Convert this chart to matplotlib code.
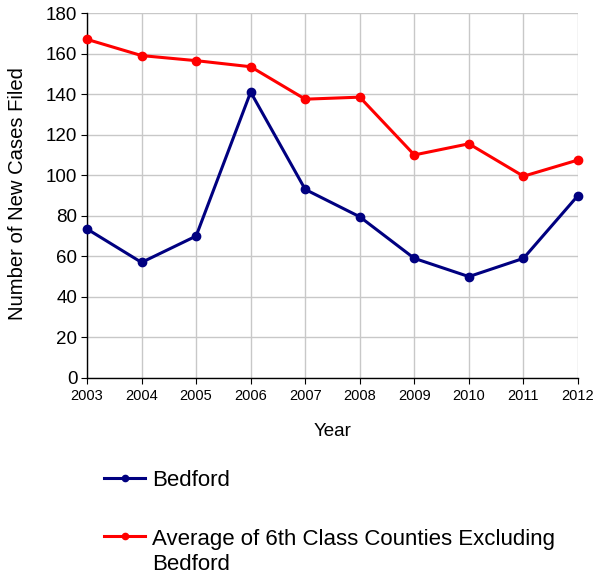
import matplotlib
matplotlib.use("Agg")
import matplotlib.pyplot as plt
from matplotlib.lines import Line2D
from matplotlib.transforms import Bbox

plt.rcParams['font.family'] = ['Liberation Sans', 'DejaVu Sans']

years = [2003, 2004, 2005, 2006, 2007, 2008, 2009, 2010, 2011, 2012]
bedford = [73.5, 57, 70, 141, 93, 79.5, 59, 50, 59, 90]
avg_6th = [167, 159, 156.5, 153.5, 137.5, 138.5, 110, 115.5, 99.5, 107.5]

labels = ["Bedford", "Average of 6th Class Counties Excluding\nBedford"]
colors = ['#000080', '#ff0000']

W, H = 593, 573
fig = plt.figure(figsize=(W / 100, H / 100), dpi=100)
ax = fig.add_axes([87 / W, 1 - 378 / H, (578 - 87) / W, (378 - 13) / H])

for vals, c in zip([bedford, avg_6th], colors):
    ax.plot(years, vals, color=c, lw=2.2, marker='o', ms=6,
            clip_on=False, zorder=3)

ax.set_xlim(2003, 2012)
ax.set_ylim(0, 180)
ax.set_xticks(years)
ax.set_yticks(range(0, 181, 20))
ax.grid(True, color='#c8c8c8', lw=1)
ax.set_axisbelow(True)
for s in ['top', 'right']:
    ax.spines[s].set_visible(False)
for s in ['left', 'bottom']:
    ax.spines[s].set_color('black')
    ax.spines[s].set_linewidth(1)
ax.tick_params(axis='y', labelsize=13.5, length=4, pad=3)
ax.tick_params(axis='x', labelsize=10.5, length=4, pad=4)

fig.text(333 / W, 1 - 432 / H, "Year", fontsize=13.5, ha='center', va='center')

# y label, cut off at the top as in the original
yl = fig.text(23 / W, 1 - 320 / H, "Number of New Cases Filed", fontsize=14.6,
              rotation=90, rotation_mode='anchor', ha='left', va='baseline')
yl.set_clip_on(True)
yl.set_clip_box(Bbox([[0, 0], [W, H - 68]]))

# legend drawn below the plot (baseline of the last text line given)
legend_y = [478, 536]
text_base = [486, 570]
for lab, c, yc, yb in zip(labels, colors, legend_y, text_base):
    fig.add_artist(Line2D([104 / W, 145 / W], [1 - yc / H] * 2, color=c, lw=2.2,
                          transform=fig.transFigure))
    fig.add_artist(Line2D([124.5 / W], [1 - yc / H], color=c, marker='o', ms=4.5,
                          transform=fig.transFigure))
    fig.text(152 / W, 1 - yb / H, lab, fontsize=16, ha='left',
             va='baseline', linespacing=1.22)

fig.savefig("out.png", dpi=100)
